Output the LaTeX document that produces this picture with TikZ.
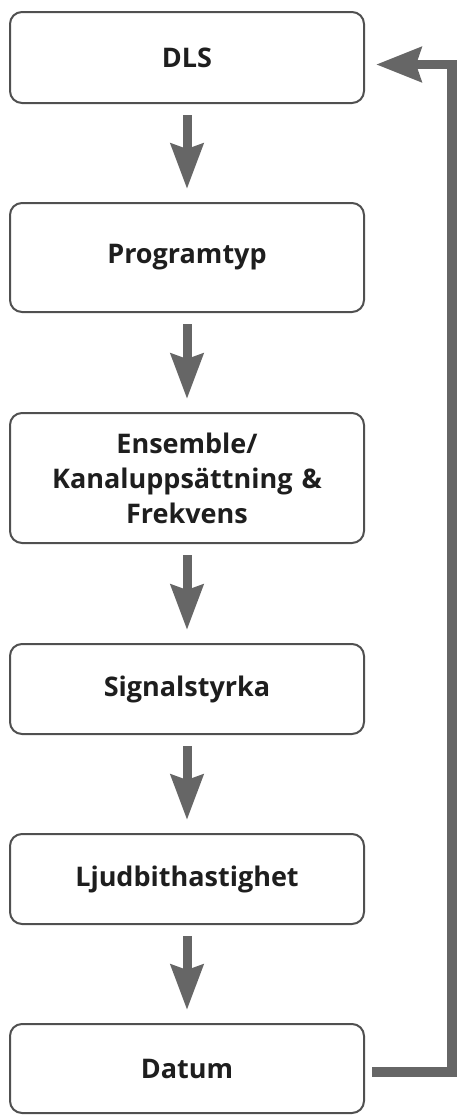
\documentclass[tikz,border=0pt]{standalone}
\usepackage{fontspec}
\setmainfont{Open Sans}
\usetikzlibrary{arrows.meta,calc}
\definecolor{boxline}{HTML}{505050}
\definecolor{arr}{HTML}{666666}
\definecolor{txt}{HTML}{1E1E1E}
\begin{document}
\begin{tikzpicture}[x=1pt,y=-1pt,
  box/.style={draw=boxline, line width=2pt, rounded corners=12pt, fill=white,
    minimum width=354pt, text width=340pt, align=center, inner sep=0pt,
    font=\bfseries\fontsize{27}{35}\selectfont, text=txt},
  flow/.style={draw=arr, line width=9pt, -{Stealth[length=45pt,width=32pt,inset=5pt]}},
  fb/.style={draw=arr, line width=9.5pt, line join=miter, -{Stealth[length=45pt,width=34pt,inset=5pt]}}
]
\useasboundingbox (0,0) rectangle (462,1117);
\node[box, minimum height=91pt]  (dls)   at (187,57.5)  {DLS};
\node[box, minimum height=109pt] (prog)  at (187,257.5) {Programtyp};
\node[box, minimum height=130pt] (ens)   at (187,478)   {Ensemble/\\Kanaluppsättning \&\\Frekvens};
\node[box, minimum height=90pt]  (sig)   at (187,689)   {Signalstyrka};
\node[box, minimum height=90pt]  (ljud)  at (187,879)   {Ljudbithastighet};
\node[box, minimum height=89pt]  (datum) at (187,1068.5){Datum};
\draw[flow] ([yshift=-11pt]dls.south)  -- ([yshift=13pt]prog.north);
\draw[flow] ([yshift=-11pt]prog.south) -- ([yshift=13pt]ens.north);
\draw[flow] ([yshift=-11pt]ens.south)  -- ([yshift=13pt]sig.north);
\draw[flow] ([yshift=-11pt]sig.south)  -- ([yshift=13pt]ljud.north);
\draw[flow] ([yshift=-11pt]ljud.south) -- ([yshift=13pt]datum.north);
\draw[fb] ($(datum.east)+(7,3.5)$) -| ($(dls.east)+(87,7)$) -- ($(dls.east)+(11,7)$);
\end{tikzpicture}
\end{document}
